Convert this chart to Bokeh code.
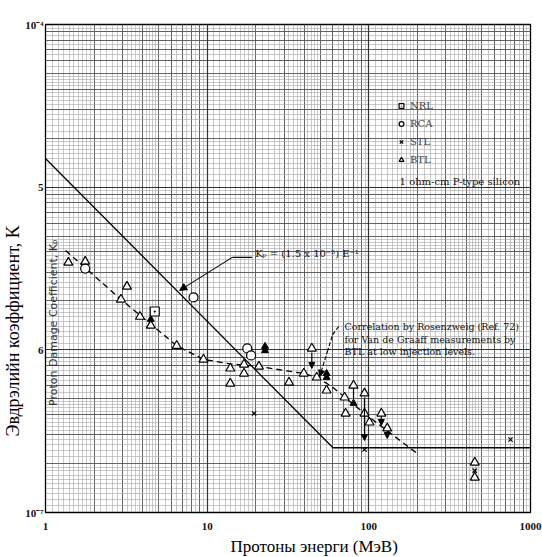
import numpy as np
from math import pi
from bokeh.plotting import figure
from bokeh.models import (Range1d, FixedTicker, Grid, Label, Legend, LegendItem,
                          Arrow, NormalHead, ColumnDataSource, Title)
from bokeh.embed import file_html
from bokeh.resources import INLINE

# ---------------- data ----------------
# Kp = 1.5e-5 * E^-1 line, flattening at high energy
kp_E = [1, 60, 1000]
kp_K = [1.5e-5, 2.5e-7, 2.5e-7]

# Rosenzweig correlation (dashed)
corr_E = [1.33, 2.93, 6.48, 9.5, 13.9, 20.9, 30.0, 39.6, 47.6, 58.9, 94, 202]
corr_K = [4.08e-6, 2.04e-6, 1.06e-6, 8.73e-7, 8.2e-7, 7.9e-7, 7.46e-7, 7.16e-7, 6.77e-7, 5.96e-7, 4.06e-7, 2.28e-7]

# BTL (open triangles)
btl_E = [1.385, 1.76, 3.19, 2.93, 3.84, 4.48, 6.48, 9.49, 13.9, 13.9, 16.9, 16.9, 20.9, 32.1,
         39.6, 44.4, 47.6, 54.8, 70.8, 80.4, 71.8, 94, 94, 100.9, 119.5, 130, 452, 452]
btl_K = [3.44e-6, 3.49e-6, 2.45e-6, 2.04e-6, 1.60e-6, 1.41e-6, 1.06e-6, 8.73e-7, 7.69e-7, 6.21e-7,
         8.13e-7, 7.16e-7, 7.9e-7, 6.3e-7, 7.16e-7, 1.02e-6, 6.77e-7, 5.63e-7, 5.10e-7, 6.04e-7,
         4.06e-7, 5.40e-7, 4.06e-7, 3.58e-7, 4.06e-7, 3.29e-7, 2.03e-7, 1.64e-7]
# BTL (filled triangles)
btlf_E = [4.48, 22.8, 22.8, 54.8, 54.8, 80.4]
btlf_K = [1.54e-6, 1.05e-6, 9.9e-7, 7.16e-7, 6.77e-7, 4.69e-7]

# RCA (circles)
rca_E = [1.76, 8.24, 17.7, 18.7]
rca_K = [3.16e-6, 2.10e-6, 1.02e-6, 9.24e-7]

# NRL (square)
nrl_E = [4.74]
nrl_K = [1.72e-6]

# STL (x)
stl_E = [19.5, 94, 752, 452]
stl_K = [4.06e-7, 2.44e-7, 2.81e-7, 1.81e-7]

# vertical arrows on points
arr_E = [44.4, 94, 119.5, 130]
arr_K0 = [9.6e-7, 5.1e-7, 3.9e-7, 3.15e-7]
arr_K1 = [7.69e-7, 2.77e-7, 3.43e-7, 2.85e-7]
bar_E = [80.4, 80.4]
bar_K = [5.8e-7, 4.8e-7]

# annotation leaders
kp_lead_E = [19.0, 14.3]
kp_lead_K = [3.70e-6, 3.70e-6]
kp_arrow = dict(xs=[14.3], ys=[3.70e-6], xe=[6.76], ye=[2.32e-6])
ros_lead_E = [65.0, 59.7, 55.7]
ros_lead_K = [1.39e-6, 1.24e-6, 9.91e-7]
ros_arrow = dict(xs=[55.7], ys=[9.91e-7], xe=[49.7], ye=[6.87e-7])

x_ticks = [1, 10, 100, 1000]
x_tick_labels = ["1", "10", "100", "1000"]
y_ticks = [1e-7, 1e-6, 1e-5, 1e-4]
y_tick_labels = ["10\u207b\u2077", "6", "5", "10\u207b\u2074"]

# ---------------- figure ----------------
p = figure(width=542, height=557, x_axis_type="log", y_axis_type="log",
           x_range=Range1d(1, 1000), y_range=Range1d(1e-7, 1e-4),
           output_backend="svg", toolbar_location=None,
           min_border_left=4, min_border_right=12, min_border_top=24, min_border_bottom=45,
           background_fill_color="white", border_fill_color="white")
p.outline_line_color = "black"
p.outline_line_width = 1.3


def sub_ticks(decades):
    major, minor = [], []
    for d in decades:
        for m in range(1, 10):
            major.append(m * d)
        for a, b, s in [(1, 2, 0.1), (2, 5, 0.2), (5, 10, 0.5)]:
            for v in np.arange(a + s, b - 1e-9, s):
                minor.append(round(v, 3) * d)
    return major, minor


xm, xn = sub_ticks([1, 10, 100])
xm.append(1000)
ym, yn = sub_ticks([1e-7, 1e-6, 1e-5])
ym.append(1e-4)

p.xgrid.ticker = FixedTicker(ticks=xm, minor_ticks=xn)
p.ygrid.ticker = FixedTicker(ticks=ym, minor_ticks=yn)
for g in (p.xgrid, p.ygrid):
    g.grid_line_color = "#555555"
    g.grid_line_width = 0.9
    g.minor_grid_line_color = "#a4a4a4"
    g.minor_grid_line_width = 0.6
p.add_layout(Grid(dimension=0, ticker=FixedTicker(ticks=x_ticks), grid_line_color="#333333", grid_line_width=1.2))
p.add_layout(Grid(dimension=1, ticker=FixedTicker(ticks=y_ticks), grid_line_color="#333333", grid_line_width=1.2))

p.xaxis.ticker = FixedTicker(ticks=x_ticks)
p.yaxis.ticker = FixedTicker(ticks=y_ticks)
p.xaxis.major_label_overrides = dict(zip(x_ticks, x_tick_labels))
p.yaxis.major_label_overrides = dict(zip(y_ticks, y_tick_labels))
for ax in (p.xaxis, p.yaxis):
    ax.major_tick_in = 0
    ax.major_tick_out = 0
    ax.minor_tick_in = 0
    ax.minor_tick_out = 0
    ax.axis_line_color = "black"
    ax.major_label_text_font = "Liberation Serif"
    ax.major_label_text_font_style = "bold"
    ax.major_label_text_font_size = "11px"
    ax.major_label_text_color = "#111111"
p.xaxis.major_label_standoff = 10
p.yaxis.major_label_standoff = 2

# outer axis titles
p.add_layout(Title(text="Протоны энерги (МэВ)", align="left", offset=185, standoff=4,
                   text_font="Liberation Serif", text_font_size="17px",
                   text_font_style="normal", text_color="black"), "below")
p.add_layout(Title(text="Эвдрэлийн коэффициент, K", align="left", offset=76, standoff=0,
                   text_font="Liberation Serif", text_font_size="18px",
                   text_font_style="normal", text_color="black"), "left")

# lines
p.line(kp_E, kp_K, line_color="black", line_width=1.3)
p.line(corr_E, corr_K, line_color="black", line_width=1.3, line_dash="6 4")

# arrows on points
p.add_layout(Arrow(end=NormalHead(size=6, fill_color="black", line_color="black"),
                   source=ColumnDataSource(dict(xs=arr_E, ys=arr_K0, xe=arr_E, ye=arr_K1)),
                   x_start="xs", y_start="ys", x_end="xe", y_end="ye",
                   line_color="black", line_width=1.2))
p.line(bar_E, bar_K, line_color="black", line_width=1.2)

# markers
r_btl = p.scatter(btl_E, btl_K, marker="triangle", size=9, fill_color="white",
                  line_color="black", line_width=1.2)
p.scatter(btlf_E, btlf_K, marker="triangle", size=7, fill_color="black", line_color="black")
r_rca = p.scatter(rca_E, rca_K, marker="circle", size=9, fill_color="white",
                  line_color="black", line_width=1.2)
r_nrl = p.scatter(nrl_E, nrl_K, marker="square_dot", size=9, fill_color="white",
                  line_color="black", line_width=1.2)
r_stl = p.scatter(stl_E, stl_K, marker="x", size=6, line_color="black", line_width=1.2)

# leader for Kp formula
p.line(kp_lead_E, kp_lead_K, line_color="black", line_width=1.1)
p.add_layout(Arrow(end=NormalHead(size=7, fill_color="black", line_color="black"),
                   source=ColumnDataSource(kp_arrow), x_start="xs", y_start="ys",
                   x_end="xe", y_end="ye", line_color="black", line_width=1.1))
# leader for Rosenzweig correlation
p.line(ros_lead_E, ros_lead_K, line_color="black", line_width=1.1, line_dash="4 2")
p.add_layout(Arrow(end=NormalHead(size=6, fill_color="black", line_color="black"),
                   source=ColumnDataSource(ros_arrow), x_start="xs", y_start="ys",
                   x_end="xe", y_end="ye", line_color="black", line_width=1.1, line_dash="4 2"))

# legend
legend = Legend(items=[LegendItem(label="NRL", renderers=[r_nrl]),
                       LegendItem(label="RCA", renderers=[r_rca]),
                       LegendItem(label="STL", renderers=[r_stl]),
                       LegendItem(label="BTL", renderers=[r_btl])],
                location=(350, 346), background_fill_alpha=0, border_line_alpha=0,
                label_text_font="DejaVu Serif", label_text_font_size="10px",
                glyph_width=12, glyph_height=13, label_height=13, spacing=5,
                padding=0, margin=0, label_standoff=3)
p.add_layout(legend)

# texts
p.add_layout(Label(x=155, y=1.08e-5, text="1 ohm-cm P-type silicon", text_font="DejaVu Serif",
                   text_font_size="10px", text_baseline="middle", text_color="#111111"))
p.add_layout(Label(x=19.8, y=3.92e-6, text="K\u209a = (1.5 x 10\u207b\u2075) E\u207b\u00b9",
                   text_font="DejaVu Serif", text_font_size="10px", text_baseline="middle",
                   text_color="#111111"))
for txt, k in [("Correlation by Rosenzweig (Ref. 72)", 1.39e-6),
               ("for Van de Graaff measurements by", 1.16e-6),
               ("BTL at low injection levels.", 9.78e-7)]:
    p.add_layout(Label(x=70.8, y=k, text=txt, text_font="DejaVu Serif", text_font_size="9.5px",
                       text_baseline="middle", text_color="#111111"))
p.add_layout(Label(x=1.12, y=1.47e-6, text="Proton Damage Coefficient, K\u209a", angle=pi / 2,
                   text_font="DejaVu Sans", text_font_size="11px", text_align="center",
                   text_baseline="middle", text_color="#333333"))

open("out.html", "w").write(file_html(p, INLINE))
